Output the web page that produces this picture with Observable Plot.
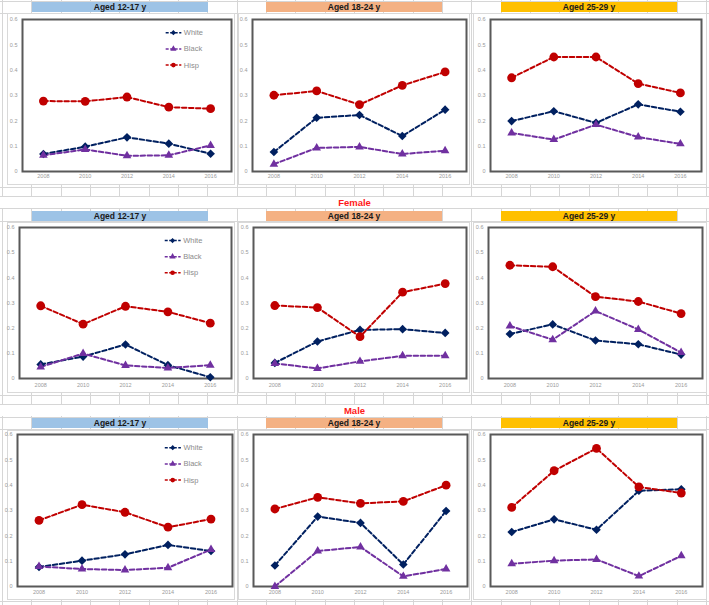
<!DOCTYPE html>
<html><head><meta charset="utf-8">
<script src="https://cdn.jsdelivr.net/npm/d3@7"></script>
<script src="https://cdn.jsdelivr.net/npm/@observablehq/plot@0.6"></script>
<style>
body{margin:0;background:#fff;font-family:"Liberation Sans",Arial,sans-serif;}
#sheet{position:relative;width:709px;height:605px;overflow:hidden;
 background-image:repeating-linear-gradient(to right,#d6d6d6 0,#d6d6d6 1px,transparent 1px,transparent 29.33px);
 background-position:2px 0;}
.hline{position:absolute;left:0;width:709px;height:0;border-top:1px solid #d6d6d6;}
.band{position:absolute;left:0;width:709px;background:#fff;}
.hdr{position:absolute;height:10px;font-weight:bold;font-size:8.5px;line-height:10px;text-align:center;color:#1a1a1a;}
.sec{position:absolute;left:0;width:709px;height:11px;line-height:11px;text-align:center;color:#ff1a1a;font-weight:bold;font-size:9.5px;}
.panel{position:absolute;background:#fff;box-shadow:inset 0 0 0 1px #d9d9d9;}
.panel svg{position:absolute;left:0;top:0;}
</style>
</head><body>
<div id="sheet"></div>
<script>
const years = [2008, 2010, 2012, 2014, 2016];
const races = ["White", "Black", "Hisp"];
const ageGroups = ["Aged 12-17 y", "Aged 18-24 y", "Aged 25-29 y"];
const sexGroups = ["", "Female", "Male"];
const yTicks = [0, 0.1, 0.2, 0.3, 0.4, 0.5, 0.6];

// Top row (all)
const allWhite1217 = [0.069, 0.098, 0.135, 0.110, 0.070];
const allBlack1217 = [0.064, 0.087, 0.062, 0.064, 0.103];
const allHisp1217  = [0.278, 0.277, 0.294, 0.254, 0.248];
const allWhite1824 = [0.077, 0.212, 0.223, 0.140, 0.244];
const allBlack1824 = [0.029, 0.093, 0.097, 0.069, 0.082];
const allHisp1824  = [0.301, 0.318, 0.264, 0.340, 0.393];
const allWhite2529 = [0.199, 0.238, 0.192, 0.265, 0.236];
const allBlack2529 = [0.152, 0.126, 0.185, 0.136, 0.109];
const allHisp2529  = [0.370, 0.452, 0.452, 0.347, 0.310];
// Female
const femWhite1217 = [0.056, 0.087, 0.135, 0.053, 0.005];
const femBlack1217 = [0.046, 0.099, 0.052, 0.042, 0.053];
const femHisp1217  = [0.289, 0.216, 0.287, 0.265, 0.220];
const femWhite1824 = [0.062, 0.147, 0.193, 0.196, 0.181];
const femBlack1824 = [0.060, 0.040, 0.068, 0.090, 0.090];
const femHisp1824  = [0.290, 0.282, 0.166, 0.343, 0.377];
const femWhite2529 = [0.177, 0.215, 0.151, 0.136, 0.095];
const femBlack2529 = [0.209, 0.154, 0.268, 0.195, 0.103];
const femHisp2529  = [0.450, 0.444, 0.325, 0.306, 0.258];
// Male
const malWhite1217 = [0.077, 0.102, 0.127, 0.164, 0.140];
const malBlack1217 = [0.079, 0.069, 0.065, 0.074, 0.146];
const malHisp1217  = [0.261, 0.323, 0.293, 0.234, 0.266];
const malWhite1824 = [0.083, 0.276, 0.251, 0.087, 0.298];
const malBlack1824 = [0.000, 0.140, 0.156, 0.040, 0.069];
const malHisp1824  = [0.306, 0.352, 0.328, 0.336, 0.400];
const malWhite2529 = [0.215, 0.265, 0.224, 0.378, 0.384];
const malBlack2529 = [0.090, 0.102, 0.107, 0.041, 0.121];
const malHisp2529  = [0.312, 0.457, 0.545, 0.393, 0.369];

const series = [
  [[allWhite1217, allBlack1217, allHisp1217], [allWhite1824, allBlack1824, allHisp1824], [allWhite2529, allBlack2529, allHisp2529]],
  [[femWhite1217, femBlack1217, femHisp1217], [femWhite1824, femBlack1824, femHisp1824], [femWhite2529, femBlack2529, femHisp2529]],
  [[malWhite1217, malBlack1217, malHisp1217], [malWhite1824, malBlack1824, malHisp1824], [malWhite2529, malBlack2529, malHisp2529]]
];

// styles
const raceColors = ["#002060", "#7030A0", "#C00000"];
const raceSymbols = ["diamond2", "triangle", "circle"];
const raceR = [3.9, 3.2, 4.4];
const hdrColors = ["#9DC3E6", "#F4B183", "#FFC000"];

// layout
const rowLayout = [
  {outer: [13, 185], box: [19, 171], hdr: 2, sec: null, pad: 3},
  {outer: [222, 393], box: [227, 378], hdr: 211, sec: 197, pad: 5},
  {outer: [430, 600], box: [434, 586], hdr: 418, sec: 405, pad: 4}
];
const colOuter = [[7, 235], [238, 470], [473, 707]];
const boxX = [
  [[22, 231], [252, 466], [490, 701]],
  [[19, 231], [253, 466], [488, 702]],
  [[17, 232], [253, 467], [490, 702]]
];
const hdrX = [[32, 208], [266, 442], [501, 677]];
const hLines = [1, 13, 187, 196, 208, 221, 395, 404, 417, 429, 601];
const legendTop = 0.548, legendStep = 0.064;

const sheet = document.getElementById("sheet");
function el(cls, css, text) {
  const d = document.createElement("div");
  d.className = cls;
  Object.assign(d.style, css);
  if (text) d.textContent = text;
  sheet.appendChild(d);
  return d;
}

hLines.forEach(y => el("hline", {top: y + "px"}));

rowLayout.forEach((R, r) => {
  if (R.sec != null) {
    el("band", {top: (R.sec) + "px", height: "11px"});
    el("sec", {top: R.sec + "px"}, sexGroups[r]);
  }
  for (let c = 0; c < 3; c++) {
    el("hdr", {top: R.hdr + "px", left: hdrX[c][0] + "px", width: (hdrX[c][1] - hdrX[c][0]) + "px", background: hdrColors[c]}, ageGroups[c]);
    const [ox0, ox1] = colOuter[c];
    const [oy0, oy1] = R.outer;
    const [bx0, bx1] = boxX[r][c];
    const [by0, by1] = R.box;
    const W = ox1 - ox0, H = oy1 - oy0;
    const panel = el("panel", {left: ox0 + "px", top: oy0 + "px", width: W + "px", height: H + "px"});

    const rows = [];
    races.forEach((race, k) => series[r][c][k].forEach((v, i) => rows.push({year: years[i], value: v, race})));

    const marks = [
      Plot.frame({stroke: "#595959", strokeWidth: 2}),
      Plot.line(rows, {x: "year", y: "value", z: "race", stroke: "race", strokeWidth: 2, strokeDasharray: "4.5,2.5"}),
      ...races.map((race, k) => Plot.dot(rows, {filter: d => d.race === race, x: "year", y: "value", fill: "race", symbol: "race", r: raceR[k], stroke: "none"}))
    ];
    if (c === 0) {
      const legendRows = races.map((race, k) => ({race, y: legendTop - k * legendStep}));
      marks.push(
        Plot.link(legendRows, {x1: () => 2013.85, x2: () => 2014.6, y1: "y", y2: "y", stroke: "race", strokeWidth: 1.5, strokeDasharray: "3,1.5"}),
        Plot.dot(legendRows, {x: () => 2014.22, y: "y", fill: "race", symbol: "race", r: 2.3, stroke: "none"}),
        Plot.text(legendRows, {x: () => 2014.72, y: "y", text: "race", textAnchor: "start", fill: "#8c8c8c", fontSize: 7.5})
      );
    }

    const svg = Plot.plot({
      width: W, height: H,
      marginLeft: bx0 - ox0, marginRight: ox1 - bx1,
      marginTop: by0 - oy0, marginBottom: oy1 - by1,
      x: {type: "linear", domain: [2007, 2017], ticks: years, tickFormat: d => String(d), tickSize: 0, tickPadding: R.pad, label: null},
      y: {domain: [0, 0.6], ticks: yTicks, tickFormat: d => d === 0 ? "0" : d.toFixed(1), tickSize: 0, tickPadding: 5, label: null},
      color: {domain: races, range: raceColors},
      symbol: {domain: races, range: raceSymbols},
      style: {background: "transparent", fontSize: "5.5px", color: "#9a9a9a", fontFamily: "Liberation Sans, Arial, sans-serif", maxWidth: "none", overflow: "visible"},
      marks
    });
    panel.appendChild(svg);
  }
});
</script>
</body></html>
